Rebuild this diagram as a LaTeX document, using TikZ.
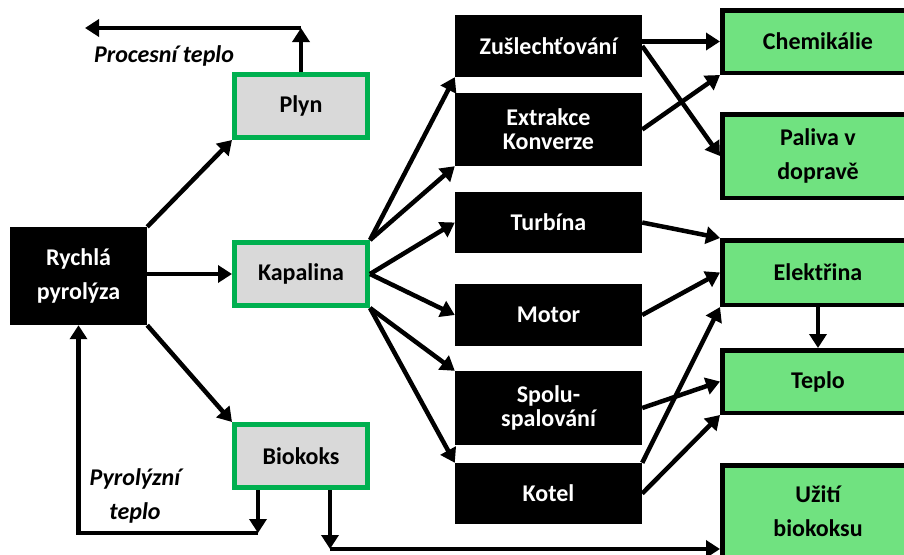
\documentclass[tikz,border=0pt]{standalone}
\usepackage{fontspec}
\setmainfont{Carlito}
\usetikzlibrary{arrows.meta,positioning,calc}
\definecolor{boxgreen}{HTML}{00B050}
\definecolor{boxgray}{HTML}{D9D9D9}
\definecolor{usegreen}{RGB}{112,226,128}

\begin{document}
\begin{tikzpicture}[
  x=1pt,y=-1pt,
  >={Triangle[length=14pt,width=17pt]},
  font=\bfseries\fontsize{24}{34}\selectfont,
  start/.style={fill=black,text=white,align=center,inner sep=0pt,
    minimum width=137pt,minimum height=98pt},
  product/.style={draw=boxgreen,line width=5pt,fill=boxgray,inner sep=0pt,
    minimum width=133pt,minimum height=63pt},
  process/.style={fill=black,text=white,align=center,inner sep=0pt,
    minimum width=187pt,font=\bfseries\fontsize{24}{24}\selectfont},
  use/.style={draw,line width=4.5pt,fill=usegreen,align=center,inner sep=0pt,
    minimum width=191.5pt},
  note/.style={align=center,font=\bfseries\itshape\fontsize{24}{34}\selectfont},
  arr/.style={->,line width=4.5pt}
]
\useasboundingbox (0,0) rectangle (904,554);
\node[start] (Rychla) at (78.5,276) {Rychlá\\pyrolýza};
\node[product] (Plyn) at (301,106) {Plyn};
\node[product] (Kapalina) at (301,274) {Kapalina};
\node[product] (Biokoks) at (301,456) {Biokoks};
\node[process,minimum height=62pt] (Zus) at (548.5,46) {Zušlechťování};
\node[process,minimum height=73pt] (Extr) at (548.5,129.5) {Extrakce\\Konverze};
\node[process,minimum height=61pt] (Turb) at (548.5,222.5) {Turbína};
\node[process,minimum height=62pt] (Motor) at (548.5,315) {Motor};
\node[process,minimum height=74pt] (Spolu) at (548.5,408) {Spolu-\\spalování};
\node[process,minimum height=61pt] (Kotel) at (548.5,493.5) {Kotel};
\node[use,minimum height=62.5pt] (Chem) at (818,41.5) {Chemikálie};
\node[use,minimum height=83.5pt] (Paliva) at (818,156) {Paliva v\\dopravě};
\node[use,minimum height=64.5pt] (Elek) at (818,272.5) {Elektřina};
\node[use,minimum height=62.5pt] (Teplo) at (818,381.5) {Teplo};
\node[use,minimum height=92.5pt] (Uziti) at (818,511.5) {Užití\\biokoksu};
\node[note] (proc) at (164,56) {Procesní teplo};
\node[note] (pyro) at (135,496) {Pyrolýzní\\teplo};
\coordinate (ptop) at (301,28);
\coordinate (pleft) at (85,28);
\coordinate (bk1) at (258,533);
\coordinate (bk2) at (330,549);
\draw[arr] (Rychla.north east)--(Plyn.south west);
\draw[arr] (Rychla.east |- Kapalina.west)--(Kapalina.west);
\draw[arr] (Rychla.south east)--(Biokoks.north west);
\draw[arr] (Plyn.north)--(ptop);
\draw[arr] (ptop)--(pleft);
\draw[arr] (Biokoks.south -| bk1)--(bk1);
\draw[arr] (bk1) -| (Rychla.south);
\draw[arr] (Biokoks.south -| bk2)--(bk2);
\draw[arr] (bk2)--(bk2 -| Uziti.west);
\draw[arr] (Kapalina.north east)--(Zus.south west);
\draw[arr] (Kapalina.north east)--(Extr.south west);
\draw[arr] (Kapalina.east)--(Turb.west);
\draw[arr] (Kapalina.east)--(Motor.west);
\draw[arr] (Kapalina.south east)--(Spolu.north west);
\draw[arr] (Kapalina.south east)--(Kotel.north west);
\draw[arr] (Zus.east |- Chem.west)--(Chem.west);
\draw[arr] (Zus.east)--(Paliva.west);
\draw[arr] (Extr.east)--(Chem.south west);
\draw[arr] (Turb.east)--(Elek.north west);
\draw[arr] (Motor.east)--(Elek.west);
\draw[arr] (Kotel.north east)--(Elek.south west);
\draw[arr] (Spolu.east)--(Teplo.west);
\draw[arr] (Kotel.east)--(Teplo.south west);
\draw[arr] (Elek.south)--(Teplo.north);
\end{tikzpicture}
\end{document}
